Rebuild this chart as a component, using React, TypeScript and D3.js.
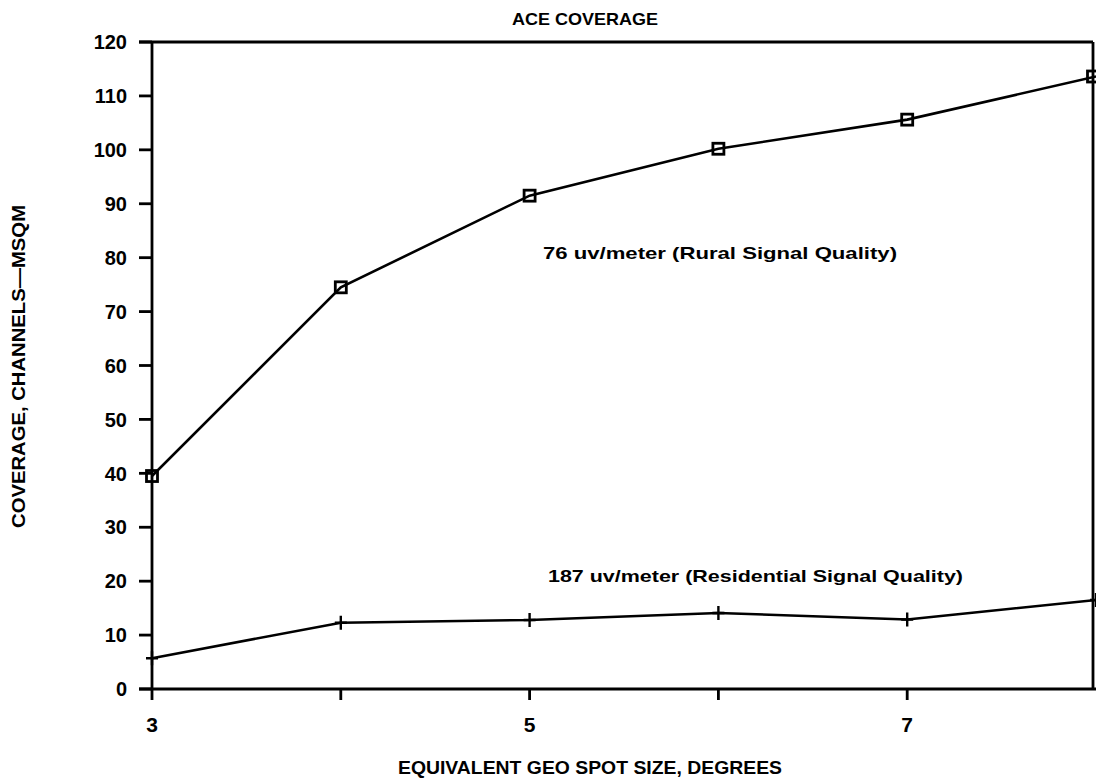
import React, { useEffect, useRef } from 'react';
import * as d3 from 'd3';

// values
const spotSizes = [3, 4, 5, 6, 7, 8];
const ruralCoverage = [39.5, 74.5, 91.5, 100.2, 105.6, 113.6];
const residentialCoverage = [5.7, 12.3, 12.8, 14.1, 12.9, 16.5];
const xTicks = [3, 4, 5, 6, 7, 8];
const xTickLabels = [3, 5, 7];
const yTicks = [0, 10, 20, 30, 40, 50, 60, 70, 80, 90, 100, 110, 120];

const W = 1096;
const H = 781;
const FONT = '"Liberation Sans", Arial, sans-serif';

const App: React.FC = () => {
  const svgRef = useRef<SVGSVGElement>(null);

  useEffect(() => {
    document.body.style.margin = '0';
    if (!svgRef.current) return;
    const svg = d3.select(svgRef.current);
    svg.selectAll('*').remove();

    const left = 152;
    const right = 1093;
    const x = d3.scaleLinear().domain([3, 8]).range([152, 1096]);
    const y = d3.scaleLinear().domain([0, 120]).range([689, 42]);

    svg.append('defs').append('clipPath').attr('id', 'clip')
      .append('rect').attr('x', 0).attr('y', 0).attr('width', W).attr('height', H);

    // frame
    const frame = svg.append('g').attr('stroke', '#000').attr('stroke-width', 2.8).attr('fill', 'none');
    frame.append('line').attr('x1', left - 13).attr('x2', right).attr('y1', y(120)).attr('y2', y(120));
    frame.append('line').attr('x1', left - 13).attr('x2', W).attr('y1', y(0)).attr('y2', y(0));
    frame.append('line').attr('x1', left).attr('x2', left).attr('y1', y(120)).attr('y2', y(0) + 11);
    frame.append('line').attr('x1', right).attr('x2', right).attr('y1', y(120)).attr('y2', y(0));

    // y ticks
    yTicks.forEach(t => {
      svg.append('line')
        .attr('x1', left - 13).attr('x2', left)
        .attr('y1', y(t)).attr('y2', y(t))
        .attr('stroke', '#000').attr('stroke-width', 2.8);
      svg.append('text')
        .attr('x', 127).attr('y', y(t)).attr('dy', '0.36em')
        .attr('text-anchor', 'end')
        .style('font-family', FONT).style('font-weight', 'bold').style('font-size', '20px')
        .text(t);
    });

    // x ticks
    xTicks.filter(t => t > 3 && t < 8).forEach(t => {
      svg.append('line')
        .attr('x1', x(t)).attr('x2', x(t))
        .attr('y1', y(0)).attr('y2', y(0) + 11)
        .attr('stroke', '#000').attr('stroke-width', 2.8);
    });
    xTickLabels.forEach(t => {
      svg.append('text')
        .attr('x', x(t)).attr('y', 732)
        .attr('text-anchor', 'middle')
        .style('font-family', FONT).style('font-weight', 'bold').style('font-size', '21px')
        .text(t);
    });

    // series
    const plot = svg.append('g').attr('clip-path', 'url(#clip)');
    const line = d3.line<number>().x((_, i) => x(spotSizes[i])).y(d => y(d));

    plot.append('path').datum(ruralCoverage)
      .attr('d', line).attr('fill', 'none').attr('stroke', '#000').attr('stroke-width', 2.6);
    plot.append('path').datum(residentialCoverage)
      .attr('d', line).attr('fill', 'none').attr('stroke', '#000').attr('stroke-width', 2.6);

    const sq = 11;
    plot.selectAll('.sq').data(ruralCoverage).enter().append('rect')
      .attr('x', (_, i) => Math.min(x(spotSizes[i]), right) - sq / 2)
      .attr('y', d => y(d) - sq / 2)
      .attr('width', sq).attr('height', sq)
      .attr('fill', 'none').attr('stroke', '#000').attr('stroke-width', 2.8);

    plot.selectAll('.plus').data(residentialCoverage).enter().append('path')
      .attr('d', (d, i) => {
        const cx = x(spotSizes[i]);
        const cy = y(d);
        return `M${cx},${cy - 7}V${cy + 7}M${cx - 6},${cy}H${cx + 6}`;
      })
      .attr('stroke', '#000').attr('stroke-width', 2.4);

    // texts
    const txt = (s: string, tx: number, ty: number, size: number, len?: number, anchor = 'start') => {
      const t = svg.append('text')
        .attr('x', tx).attr('y', ty).attr('text-anchor', anchor)
        .style('font-family', FONT).style('font-weight', 'bold').style('font-size', `${size}px`)
        .text(s);
      if (len) t.attr('textLength', len).attr('lengthAdjust', 'spacingAndGlyphs');
      return t;
    };

    txt('ACE COVERAGE', 512, 25, 17, 146);
    txt('76 uv/meter (Rural Signal Quality)', 543, 259, 17, 354);
    txt('187 uv/meter (Residential Signal Quality)', 548, 582, 17, 415);
    txt('EQUIVALENT GEO SPOT SIZE, DEGREES', 398, 774, 19, 384);

    svg.append('text')
      .attr('transform', 'translate(25,528) rotate(-90)')
      .attr('textLength', 323).attr('lengthAdjust', 'spacingAndGlyphs')
      .style('font-family', FONT).style('font-weight', 'bold').style('font-size', '18px')
      .text('COVERAGE, CHANNELS\u2014MSQM');
  }, []);

  return <svg ref={svgRef} width={W} height={H} style={{ display: 'block', background: '#fff' }} />;
};

export default App;
